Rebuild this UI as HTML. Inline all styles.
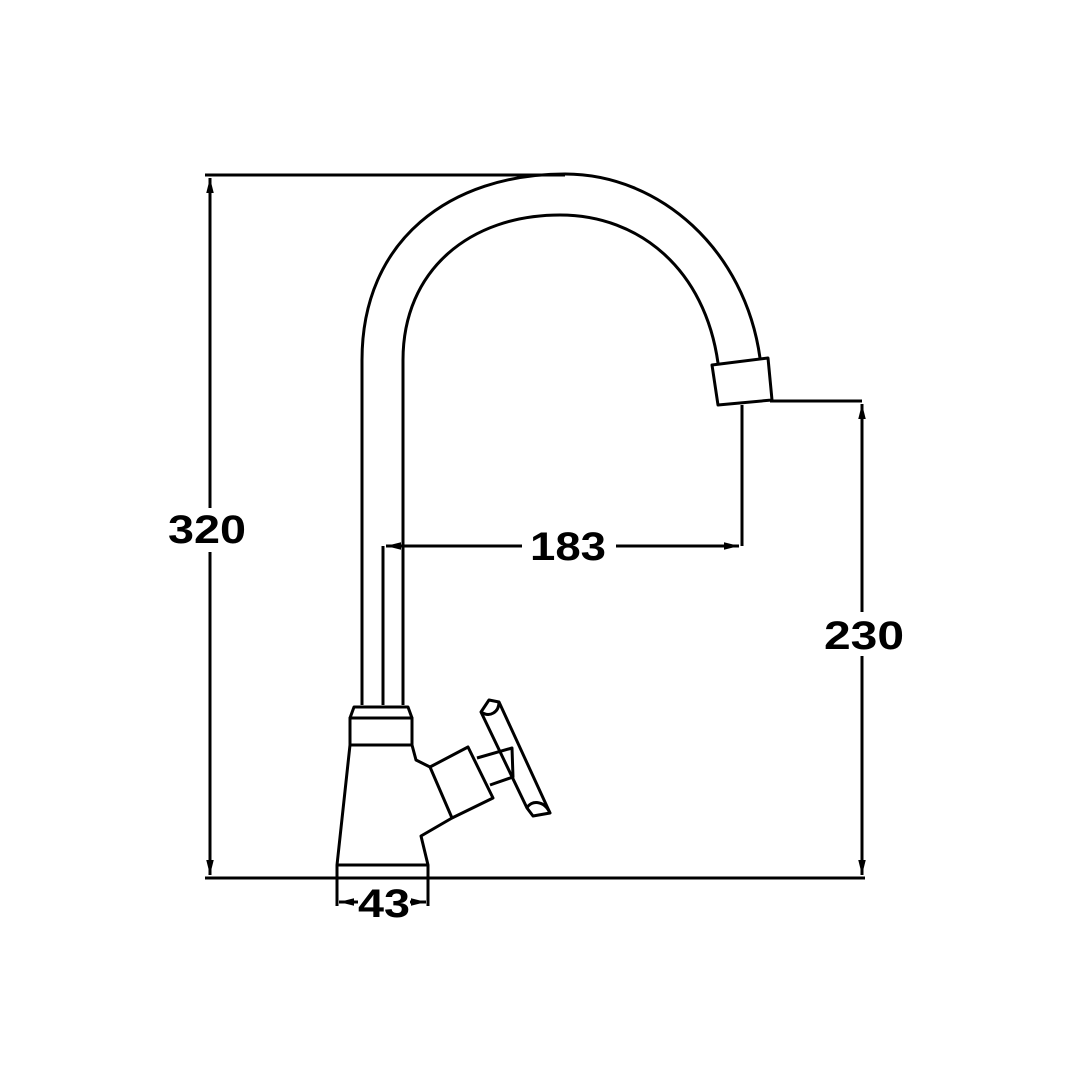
<!DOCTYPE html>
<html><head><style>html,body{margin:0;padding:0;background:#fff}svg{display:block}</style></head>
<body>
<svg width="1080" height="1080" viewBox="0 0 1080 1080" xmlns="http://www.w3.org/2000/svg">
<defs>
<marker id="a" viewBox="0 0 10 10" refX="10" refY="5" markerWidth="5" markerHeight="5" orient="auto-start-reverse"><path d="M0,2.5 L10,5 L0,7.5 z" fill="#000"/></marker>
</defs>
<g fill="none" stroke="#000" stroke-width="3" stroke-linejoin="round">
<line x1="205" y1="175" x2="565" y2="175"/>
<line x1="205" y1="878" x2="865" y2="878"/>
<line x1="770" y1="401" x2="862" y2="401"/>
<line x1="210" y1="178" x2="210" y2="508" marker-start="url(#a)"/>
<line x1="210" y1="552" x2="210" y2="875" marker-end="url(#a)"/>
<line x1="862" y1="404" x2="862" y2="612" marker-start="url(#a)"/>
<line x1="862" y1="656" x2="862" y2="875" marker-end="url(#a)"/>
<line x1="742" y1="405" x2="742" y2="546"/>
<line x1="383" y1="546" x2="383" y2="705"/>
<line x1="386" y1="546" x2="522" y2="546" marker-start="url(#a)"/>
<line x1="616" y1="546" x2="739" y2="546" marker-end="url(#a)"/>
<line x1="337" y1="878" x2="337" y2="906"/>
<line x1="428" y1="878" x2="428" y2="906"/>
<line x1="339" y1="902" x2="358" y2="902" marker-start="url(#a)"/>
<line x1="410" y1="902" x2="426" y2="902" marker-end="url(#a)"/>
<path d="M362,705 L362,360 C362,240 450,174 565,174 C660,174 745,250 760,358"/>
<path d="M403,705 L403,360 C403,270 470,215 560,215 C640,215 705,270 718,363"/>
<path d="M712,365 L768,358 L772,400 L718,405 Z"/>
<path d="M350,718 L354,707 L408,707 L412,718"/>
<rect x="350" y="718" width="62" height="27"/>
<path d="M350,745 L337,865 L428,865 L421,836 L452,818"/>
<path d="M412,745 L416,760 L430,767"/>
<line x1="337" y1="865" x2="337" y2="878"/>
<line x1="428" y1="865" x2="428" y2="878"/>
<path d="M430,767 L468,747 L493,798 L452,818 Z"/>
<path d="M477,758 L512,748 L513,777 L490,785"/>
<path d="M481,712 L489,700 L499,702 L550,813 L533,816 L527,808 Z"/>
<path d="M481,712 C490,718 499,712 499,702"/>
<path d="M527,808 C531,800 544,800 550,813"/>
</g>
<g font-family="Liberation Sans, sans-serif" font-weight="bold" font-size="40" text-anchor="middle" fill="#000">
<text x="207" y="543" textLength="78" lengthAdjust="spacingAndGlyphs">320</text>
<text x="568" y="560" textLength="76" lengthAdjust="spacingAndGlyphs">183</text>
<text x="864" y="649" textLength="80" lengthAdjust="spacingAndGlyphs">230</text>
<text x="384" y="917" textLength="52" lengthAdjust="spacingAndGlyphs">43</text>
</g>
</svg>
</body></html>
